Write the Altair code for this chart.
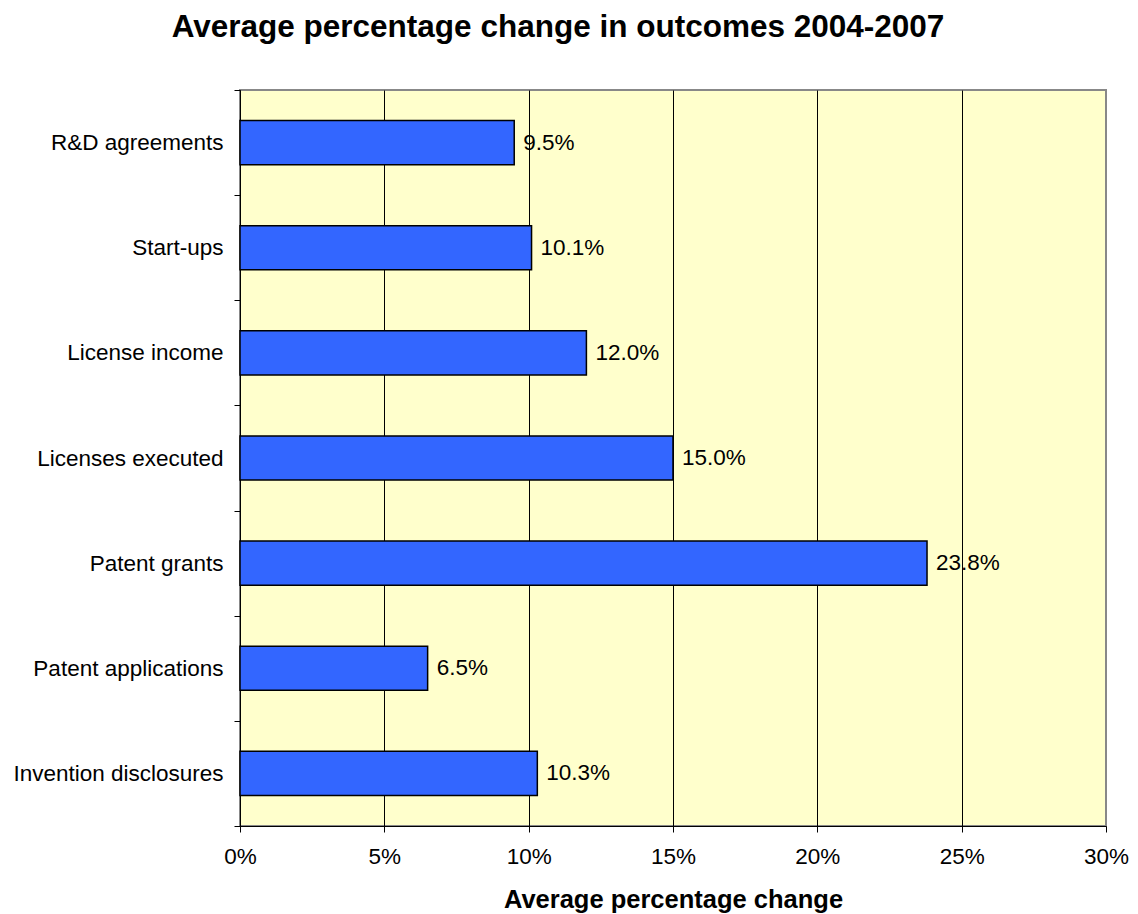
import altair as alt
import pandas as pd

categories = ["R&D agreements", "Start-ups", "License income", "Licenses executed",
              "Patent grants", "Patent applications", "Invention disclosures"]
values = [9.5, 10.1, 12.0, 15.0, 23.8, 6.5, 10.3]
x_ticks = [0, 5, 10, 15, 20, 25, 30]

df = pd.DataFrame({"category": categories, "value": values})
df["label"] = [f"{v:.1f}%" for v in values]

FONT = "Liberation Sans"
LS = 22.5

y_enc = alt.Y("category:N", sort=categories, title=None,
              scale=alt.Scale(paddingInner=0, paddingOuter=0),
              axis=alt.Axis(tickBand="extent", labelFontSize=LS, labelColor="black",
                            labelFont=FONT, tickColor="black", tickSize=6, labelLimit=0,
                            domainColor="black", labelPadding=11, grid=False))
x_enc = alt.X("value:Q", title="Average percentage change",
              scale=alt.Scale(domain=[0, 30], nice=False),
              axis=alt.Axis(values=x_ticks, labelExpr="datum.value + '%'",
                            labelFontSize=LS, labelColor="black", labelFont=FONT,
                            labelFlush=False,
                            tickColor="black", tickSize=6, domainColor="black",
                            labelPadding=13, titleFontSize=25.5, titleFont=FONT,
                            titleFontWeight="bold", titleColor="black", titlePadding=20,
                            grid=True,
                            gridColor={"condition": {"test": "datum.value === 30", "value": "#888888"},
                                       "value": "black"},
                            gridOpacity=1, gridWidth=1))

bars = alt.Chart(df).mark_bar(color="#3366FF", stroke="black", strokeWidth=1.5,
                              height={"band": 0.42}).encode(y=y_enc, x=x_enc)

labels = alt.Chart(df).mark_text(align="left", baseline="middle", dx=9, fontSize=LS,
                                 font=FONT, color="black").encode(
    y=alt.Y("category:N", sort=categories), x=alt.X("value:Q"), text="label:N")

chart = alt.layer(bars, labels).properties(
    width=866, height=736,
    title=alt.TitleParams("Average percentage change in outcomes 2004-2007",
                          fontSize=31.5, font=FONT, fontWeight="bold", color="black",
                          anchor="middle", dx=-115, offset=36),
    autosize=alt.AutoSizeParams(type="none"),
    padding={"left": 232, "top": 82, "right": 23, "bottom": 88},
).configure_view(fill="#FFFFCC", stroke="#888888", strokeWidth=2)

chart.save("out.html", embed_options={"renderer": "svg", "actions": False})
